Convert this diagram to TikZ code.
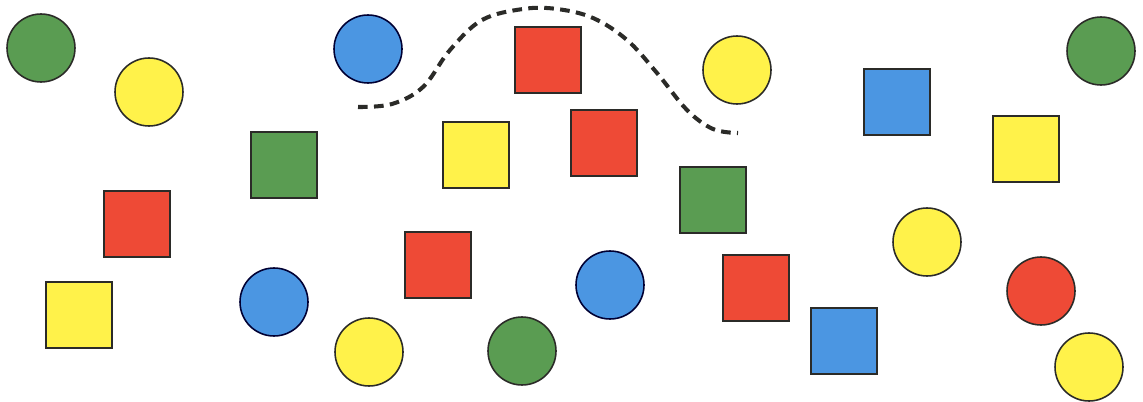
\documentclass[tikz,border=0pt]{standalone}
\usepackage{tikz}
\usepackage{xcolor}

\definecolor{shgreen}{HTML}{5A9C52}
\definecolor{shyellow}{HTML}{FFF24A}
\definecolor{shblue}{HTML}{4B96E2}
\definecolor{shred}{HTML}{EE4A36}
\definecolor{shline}{HTML}{2B2B28}

\begin{document}
\begin{tikzpicture}[x=0.02cm,y=-0.02cm,
    disc/.style={circle,draw=shline,line width=0.9pt,minimum size=1.36cm,inner sep=0pt},
    box/.style={rectangle,draw=shline,line width=0.9pt,minimum size=1.31cm,inner sep=0pt}]
  \useasboundingbox (0,0) rectangle (1143,402);
  % circles
  \node[disc,fill=shgreen]  (c1)  at (41,48)   {};
  \node[disc,fill=shyellow] (c2)  at (149,92)  {};
  \node[disc,fill=shblue,draw=black!80!blue] (c3) at (368,49) {};
  \node[disc,fill=shyellow] (c4)  at (737,70)  {};
  \node[disc,fill=shgreen]  (c5)  at (1101,51) {};
  \node[disc,fill=shyellow] (c6)  at (927,242) {};
  \node[disc,fill=shred]    (c7)  at (1041,291) {};
  \node[disc,fill=shyellow] (c8)  at (1089,367) {};
  \node[disc,fill=shblue,draw=black!80!blue] (c9) at (274,302) {};
  \node[disc,fill=shyellow] (c10) at (369,352) {};
  \node[disc,fill=shgreen]  (c11) at (522,351) {};
  \node[disc,fill=shblue,draw=black!80!blue] (c12) at (610,285) {};
  % squares
  \node[box,fill=shred]    (s1)  at (548,60)  {};
  \node[box,fill=shblue]   (s2)  at (897,102) {};
  \node[box,fill=shgreen]  (s3)  at (284,165) {};
  \node[box,fill=shyellow] (s4)  at (476,155) {};
  \node[box,fill=shred]    (s5)  at (604,143) {};
  \node[box,fill=shyellow] (s6)  at (1026,149) {};
  \node[box,fill=shgreen]  (s7)  at (713,200) {};
  \node[box,fill=shred]    (s8)  at (137,224) {};
  \node[box,fill=shred]    (s9)  at (438,265) {};
  \node[box,fill=shred]    (s10) at (756,288) {};
  \node[box,fill=shyellow] (s11) at (79,315)  {};
  \node[box,fill=shblue]   (s12) at (844,341) {};
  % dashed path over the top
  \draw[shline,line width=2.3pt,dash pattern=on 5.5pt off 3.6pt]
    plot[smooth,tension=0.6] coordinates {(358,107) (392,104) (423,87) (450,50)
      (482,20) (523,9) (557,9) (593,18) (627,40) (657,73) (687,110) (713,129) (738,133)};
\end{tikzpicture}
\end{document}
